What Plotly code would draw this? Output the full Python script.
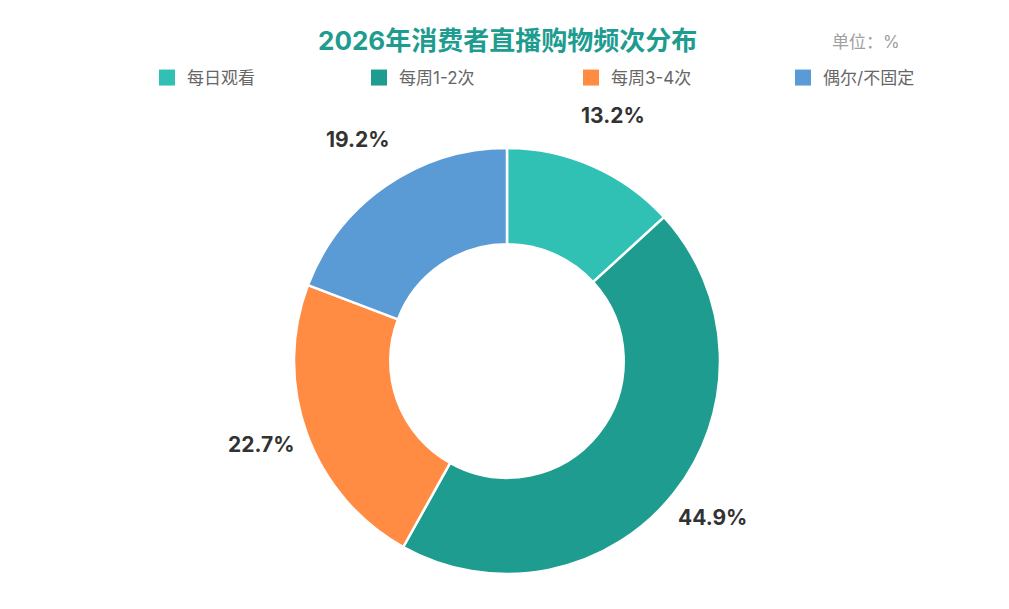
import math
import plotly.graph_objects as go

categories = ["每日观看", "每周1-2次", "每周3-4次", "偶尔/不固定"]
values = [13.2, 44.9, 22.7, 19.2]
colors = ["#31C1B4", "#1E9C8F", "#FF8C42", "#5B9BD5"]
title_text = "2026年消费者直播购物频次分布"
unit_text = "单位：%"

W, H = 1009, 609
cx, cy, R = 507, 361, 213
label_r = 262
label_cy = 355
FONT = "Inter, 'Noto Sans CJK SC', sans-serif"

fig = go.Figure()
fig.add_trace(go.Pie(
    labels=categories,
    values=values,
    marker=dict(colors=colors, line=dict(color="white", width=2.5)),
    hole=0.548,
    sort=False,
    direction="clockwise",
    rotation=0,
    textinfo="none",
    hoverinfo="label+percent",
    showlegend=False,
    domain=dict(x=[(cx - R) / W, (cx + R) / W], y=[1 - (cy + R) / H, 1 - (cy - R) / H]),
))

# legend entries (square swatches) matching the slices
for name, col in zip(categories, colors):
    fig.add_trace(go.Scatter(
        x=[None], y=[None], mode="markers", name=name,
        marker=dict(symbol="square", size=16, color=col, line=dict(width=0)),
        showlegend=True, hoverinfo="skip",
    ))

annotations = []
total = sum(values)
cum = 0
for v in values:
    mid = (cum + v / 2) / total * 2 * math.pi
    cum += v
    px = cx + label_r * math.sin(mid)
    py = label_cy - label_r * math.cos(mid)
    annotations.append(dict(
        x=px / W, y=1 - py / H, xref="paper", yref="paper",
        text=f"<b>{v:.1f}%</b>", showarrow=False,
        font=dict(family=FONT, size=21, color="#333333"),
        xanchor="center", yanchor="middle",
    ))

annotations.append(dict(
    x=507 / W, y=1 - 40 / H, xref="paper", yref="paper",
    text=f"<b>{title_text}</b>", showarrow=False,
    font=dict(family=FONT, size=26, color="#1E9C8F"),
    xanchor="center", yanchor="middle",
))
annotations.append(dict(
    x=866 / W, y=1 - 42 / H, xref="paper", yref="paper",
    text=unit_text, showarrow=False,
    font=dict(family=FONT, size=17, color="#A0A0A0"),
    xanchor="center", yanchor="middle",
))

fig.update_layout(
    width=W, height=H,
    margin=dict(l=0, r=0, t=0, b=0),
    paper_bgcolor="white",
    plot_bgcolor="white",
    xaxis=dict(visible=False),
    yaxis=dict(visible=False),
    annotations=annotations,
    showlegend=True,
    legend=dict(
        orientation="h", x=147 / W, xanchor="left", y=1 - 60 / H, yanchor="top",
        font=dict(family=FONT, size=17, color="#666666"),
        entrywidth=167, itemwidth=30, traceorder="normal",
        itemsizing="trace",
    ),
)

fig.write_html("out.html")
